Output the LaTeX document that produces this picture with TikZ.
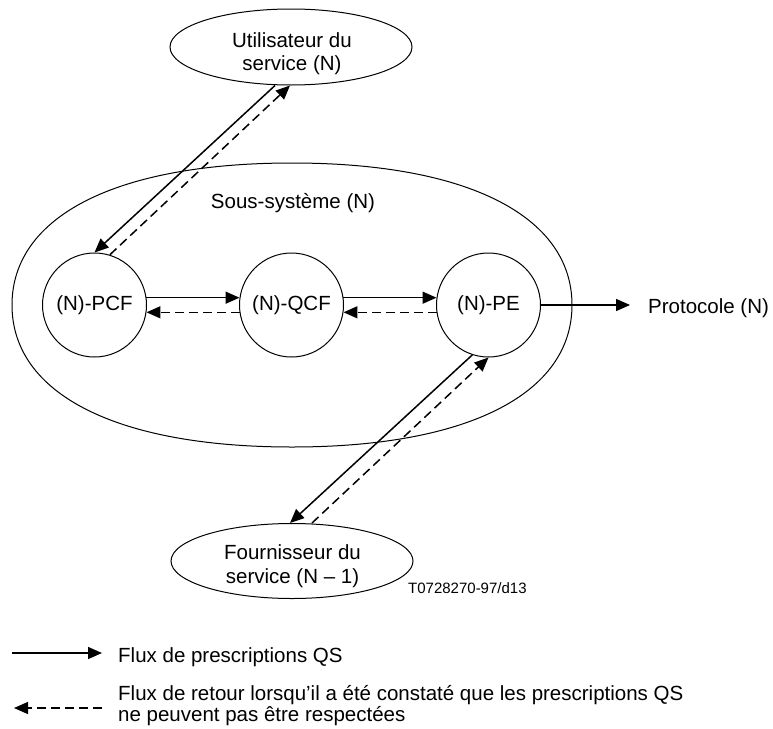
\documentclass[tikz,border=0pt]{standalone}
\usepackage{fontspec}
\setmainfont{Liberation Sans}
\usetikzlibrary{arrows.meta,shapes.geometric}
\begin{document}
\begin{tikzpicture}[x=1pt,y=-1pt,
  outline/.style={draw, line width=1pt},
  unit/.style={outline, circle, minimum size=104pt, inner sep=0pt,
               font=\fontsize{20.5}{24}\selectfont},
  party/.style={outline, ellipse, minimum width=242pt, minimum height=76pt, inner sep=0pt},
  lbl/.style={font=\fontsize{20.5}{24}\selectfont, inner sep=0pt, anchor=base},
  lblw/.style={lbl, anchor=base west},
  req/.style={line width=1.5pt, -{Triangle[length=14pt,width=12pt]}},
  ret/.style={req, dash pattern=on 9pt off 5pt},
]
\useasboundingbox (0,0) rectangle (773,728);

% (N)-subsystem boundary
\draw[line width=1pt] (12,305) .. controls (12,216.5) and (115.6,163) .. (292,163)
  .. controls (468.4,163) and (572,216.5) .. (572,305)
  .. controls (572,393.5) and (468.4,447) .. (292,447)
  .. controls (115.6,447) and (12,393.5) .. (12,305) -- cycle;
\node[lbl] (subsys) at (293,208) {Sous-système (N)};

% service user and provider
\node[party] (user) at (291,47) {};
\node[lbl] (user1) at (292,47) {Utilisateur du};
\node[lbl] (user2) at (292,70) {service (N)};

\node[party, minimum height=75pt] (prov) at (292,561) {};
\node[lbl] (prov1) at (292.5,559) {Fournisseur du};
\node[lbl] (prov2) at (292.5,583) {service (N – 1)};

% functions of the subsystem
\node[unit] (pcf) at (94.5,305) {(N)-PCF};
\node[unit] (qcf) at (291.5,305) {(N)-QCF};
\node[unit] (pe)  at (488.5,305) {(N)-PE};

% flows between functions
\draw[req] (pcf.8) -- (qcf.172);
\draw[ret] (qcf.188) -- (pcf.352);
\draw[req] (qcf.8) -- (pe.172);
\draw[ret] (pe.188) -- (qcf.352);

\draw[req] ([xshift=-16pt]user.south) -- (pcf.north);
\draw[ret] (pcf.73) -- ([xshift=-1pt]user.south);
\draw[req] (pe.252) -- ([xshift=-2pt]prov.north);
\draw[ret] ([xshift=20pt]prov.north) -- (pe.270);

\coordinate (proto) at (630,305);
\draw[req] (pe.east) -- (proto);
\node[lblw] (prototxt) at (648,313) {Protocole (N)};

\node[inner sep=0pt, anchor=base west, font=\fontsize{15}{18}\selectfont] (code) at (408,593) {T0728270-97/d13};

% legend
\coordinate (k1a) at (12,653);
\coordinate (k1b) at (102,653);
\draw[req] (k1a) -- (k1b);
\node[lblw] (k1txt) at (118,662) {Flux de prescriptions QS};

\coordinate (k2a) at (102,708);
\coordinate (k2b) at (14,708);
\draw[ret] (k2a) -- (k2b);
\node[lblw] (k2txt) at (118,700) {Flux de retour lorsqu'il a été constaté que les prescriptions QS};
\node[lblw] (k2txtb) at (118,721) {ne peuvent pas être respectées};
\end{tikzpicture}
\end{document}
